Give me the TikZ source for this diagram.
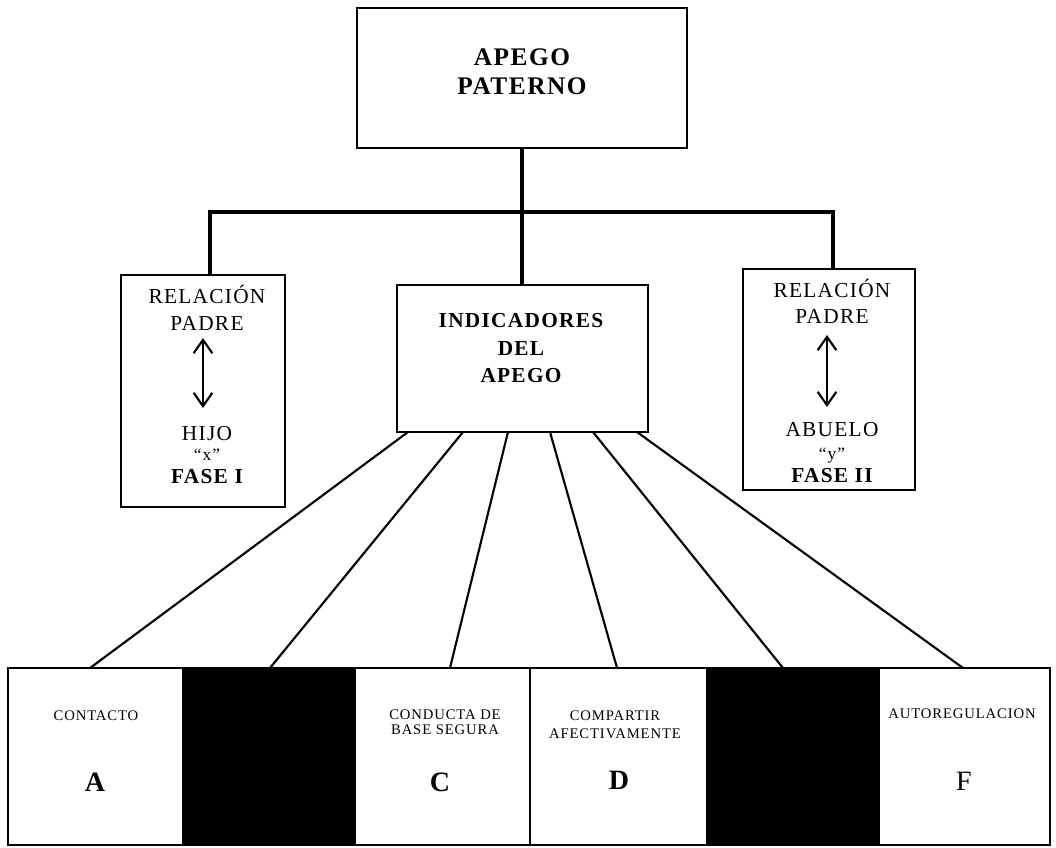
\documentclass[tikz,border=0pt]{standalone}
\usepackage{fontspec}
\setmainfont{Liberation Serif}[LetterSpace=6]
\usetikzlibrary{arrows.meta}
\tikzset{
  box/.style={draw=black, line width=1.5pt, inner sep=0pt, outer sep=0pt, fill=white},
  cell/.style={box, minimum height=132.75pt},
  blackcell/.style={cell, fill=black},
  tree/.style={line width=3pt},
  link/.style={line width=1.6pt},
  dbl/.style={line width=1.6pt, {Straight Barb[length=10pt,width=14pt,line width=1.6pt]}-{Straight Barb[length=10pt,width=14pt,line width=1.6pt]}},
  txt/.style={anchor=base, inner sep=0pt, outer sep=0pt, font=\fontsize{16}{18}\selectfont},
  qtxt/.style={txt, font=\fontsize{13}{14}\selectfont},
  btxt/.style={txt, font=\fontsize{16}{18}\selectfont\bfseries},
  ttl/.style={txt, font=\fontsize{19}{21}\selectfont\bfseries},
  small/.style={txt, font=\fontsize{11}{12}\selectfont},
  letter/.style={txt, font=\fontsize{21}{23}\selectfont\bfseries},
  rletter/.style={txt, font=\fontsize{21}{23}\selectfont}
}
\begin{document}
\begin{tikzpicture}[x=0.75pt,y=-0.75pt]
\useasboundingbox (0,0) rectangle (1056,847);
% boxes
\node[box, minimum width=247.5pt, minimum height=105pt] (top) at (522,78) {};
\node[box, minimum width=123pt, minimum height=174pt] (left) at (203,391) {};
\node[box, minimum width=129pt, minimum height=165.75pt] (right) at (829,379.5) {};
\node[box, minimum width=188.25pt, minimum height=110.25pt] (mid) at (522,358.5) {};
% bottom row
\node[cell, minimum width=131.25pt] (cA) at (95.5,756.5) {};
\node[blackcell, minimum width=129pt] (cB) at (269,756.5) {};
\node[cell, minimum width=131.25pt] (cC) at (442.5,756.5) {};
\node[cell, minimum width=132.75pt] (cD) at (618.5,756.5) {};
\node[blackcell, minimum width=129pt] (cE) at (793,756.5) {};
\node[cell, minimum width=128.25pt] (cF) at (964.5,756.5) {};
% tree connectors
\coordinate (bar) at (522,212);
\draw[tree] (top.south) -- (mid.north);
\draw[tree] ([xshift=5.25pt]left.north) |- (bar) -| ([xshift=3pt]right.north);
% links to bottom
\draw[link] ([xshift=-85.5pt]mid.south) -- ([xshift=-4.1pt]cA.north);
\draw[link] ([xshift=-44.25pt]mid.south) -- ([xshift=0.75pt]cB.north);
\draw[link] ([xshift=-10.5pt]mid.south) -- ([xshift=5.6pt]cC.north);
\draw[link] ([xshift=21pt]mid.south) -- ([xshift=-1.1pt]cD.north);
\draw[link] ([xshift=53.25pt]mid.south) -- ([xshift=-7.5pt]cE.north);
\draw[link] ([xshift=86.25pt]mid.south) -- ([xshift=-1.1pt]cF.north);
% top texts
\node[ttl] (t1) at (522,65) {APEGO};
\node[ttl] (t2) at (522,94) {PATERNO};
% left box
\node[txt] (l1) at (207,303) {RELACIÓN};
\node[txt] (l2) at (207,330) {PADRE};
\coordinate (la1) at (203,338);
\coordinate (la2) at (203,408);
\draw[dbl] (la1) -- (la2);
\node[txt] (l3) at (207,440) {HIJO};
\node[qtxt] (l4) at (207,460) {“x”};
\node[btxt] (l5) at (207,483) {FASE I};
% right box
\node[txt] (r1) at (832,297) {RELACIÓN};
\node[txt] (r2) at (832,323) {PADRE};
\coordinate (ra1) at (827,335);
\coordinate (ra2) at (827,407);
\draw[dbl] (ra1) -- (ra2);
\node[txt] (r3) at (832,436) {ABUELO};
\node[qtxt] (r4) at (832,459) {“y”};
\node[btxt] (r5) at (832,482) {FASE II};
% middle box
\node[btxt] (m1) at (521,327) {INDICADORES};
\node[btxt] (m2) at (521,355) {DEL};
\node[btxt] (m3) at (521,382) {APEGO};
% bottom texts
\node[small] (a1) at (96,720) {CONTACTO};
\node[letter] (a2) at (95,791) {A};
\node[small] (c1) at (445,719) {CONDUCTA DE};
\node[small] (c2) at (445,734) {BASE SEGURA};
\node[letter] (c3) at (440,791) {C};
\node[small] (d1) at (615,720) {COMPARTIR};
\node[small] (d2) at (615,738) {AFECTIVAMENTE};
\node[letter] (d3) at (619,789) {D};
\node[small] (f1) at (962,718) {AUTOREGULACION};
\node[rletter] (f2) at (964,790) {F};
\end{tikzpicture}
\end{document}
